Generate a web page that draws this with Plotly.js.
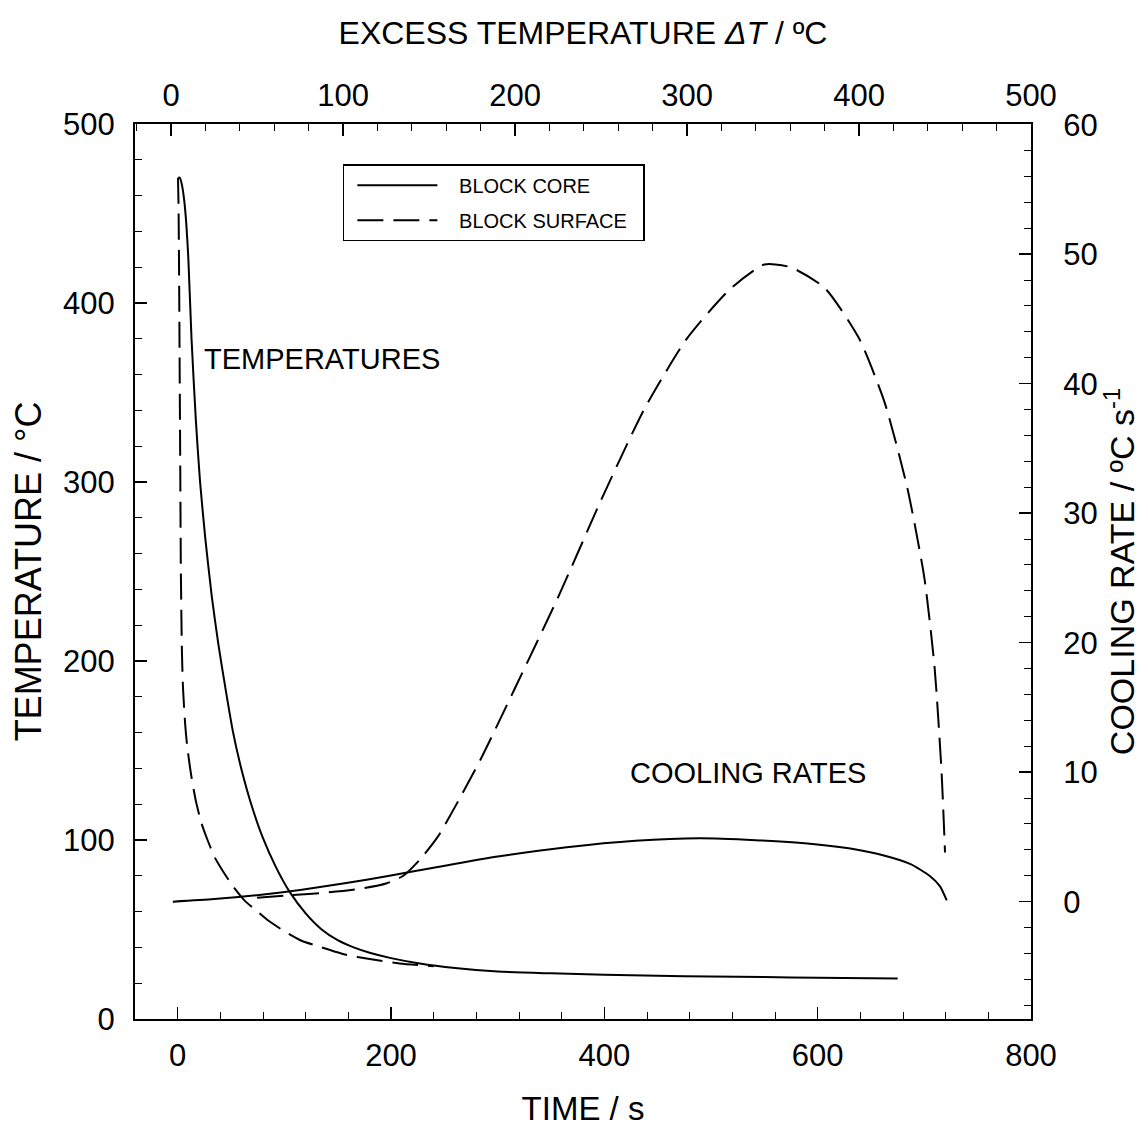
<!DOCTYPE html>
<html><head><meta charset="utf-8">
<script src="https://cdn.plot.ly/plotly-3.0.1.min.js"></script>
<style>body{margin:0;background:#fff}</style>
</head><body><div id="chart" style="width:1146px;height:1127px"></div>
<script>
// Temperatures vs time (bottom / left axes)
const coreTime = [0.5, 2, 4, 6, 8, 10, 13, 17, 21, 26, 32, 38, 45, 52, 60, 70, 80, 92, 105, 120, 135, 150, 165, 180, 200, 227, 260, 300, 350, 400, 450, 500, 550, 600, 650, 675];
const coreTemp = [470, 470, 466, 458, 445, 425, 380, 335, 300, 268, 236, 210, 184, 160, 139, 118, 101, 85, 71, 59, 50, 44, 40, 37, 34, 31, 28.5, 26.5, 25.5, 24.7, 24.1, 23.7, 23.4, 23.1, 22.8, 22.6];
const surfTime = [0.3, 0.8, 1.3, 1.8, 2.4, 3, 4, 5, 7, 9, 13, 17, 22, 28, 35, 42, 52, 63, 75, 85, 100, 115, 135, 157, 180, 208, 240];
const surfTemp = [470, 455, 420, 370, 310, 250, 205, 185, 165, 152, 135, 122, 110, 100, 90, 83, 74, 66, 60, 55, 49, 44, 40, 36, 33.5, 31, 29.5];
// Cooling rates vs excess temperature (top / right axes)
const coreDT = [1, 25, 50, 75, 100, 127, 160, 191, 230, 270, 307, 340, 370, 395, 415, 430, 441, 447, 451];
const coreRate = [0, 0.2, 0.5, 0.9, 1.4, 2.0, 2.8, 3.5, 4.2, 4.7, 4.9, 4.75, 4.5, 4.1, 3.55, 2.9, 2.0, 1.2, 0.1];
const surfDT = [50, 70, 90, 110, 125, 135, 145, 155, 165, 180, 200, 225, 250, 275, 300, 325, 345, 360, 380, 400, 415, 428, 438, 444, 448, 450];
const surfRate = [0.3, 0.5, 0.7, 1.0, 1.4, 2.0, 3.3, 5.0, 7.3, 11, 16.5, 23.5, 31, 38, 43.5, 47.3, 49.2, 49, 47.4, 43.5, 38.5, 32, 25, 18, 10, 3.8];

const seriesNames = ['BLOCK CORE', 'BLOCK SURFACE'];
const bottomTicks = [0, 200, 400, 600, 800];

const FONT = 'Liberation Sans, Arial, sans-serif';
const NB = '\u00a0\u00a0\u00a0';
const solid = {color: '#000', width: 2, shape: 'spline', smoothing: 0.6};
const dashed = {color: '#000', width: 2, dash: '26px,10px', shape: 'spline', smoothing: 0.6};

const traces = [
  {x: coreTime, y: coreTemp, name: NB + seriesNames[0], mode: 'lines', line: solid, xaxis: 'x', yaxis: 'y', legendgroup: 'a'},
  {x: surfTime, y: surfTemp, name: NB + seriesNames[1] + '\u00a0\u00a0', mode: 'lines', line: dashed, xaxis: 'x', yaxis: 'y', legendgroup: 'b'},
  {x: coreDT, y: coreRate, name: seriesNames[0], mode: 'lines', line: solid, xaxis: 'x2', yaxis: 'y2', showlegend: false},
  {x: surfDT, y: surfRate, name: seriesNames[1], mode: 'lines', line: dashed, xaxis: 'x2', yaxis: 'y2', showlegend: false}
];

const tickFont = {family: FONT, size: 31, color: '#000'};
const axBase = {
  showline: true, linecolor: '#000', linewidth: 2, mirror: false,
  showgrid: false, zeroline: false,
  ticks: 'inside', ticklen: 12, tickwidth: 1.5, tickcolor: '#000',
  tickfont: tickFont
};
const minorTicks = (d) => ({dtick: d, ticks: 'inside', ticklen: 7, tickcolor: '#000', tickwidth: 1});

const layout = {
  width: 1146, height: 1127,
  margin: {l: 135, r: 115, t: 124, b: 108},
  paper_bgcolor: '#fff', plot_bgcolor: '#fff',
  font: {family: FONT, color: '#000'},
  showlegend: true,
  legend: {
    x: 0.232, y: 0.955, xanchor: 'left', yanchor: 'top',
    bordercolor: '#000', borderwidth: 1.5, bgcolor: '#fff',
    font: {family: FONT, size: 20, color: '#000'},
    itemwidth: 80, indentation: 8, traceorder: 'grouped', tracegroupgap: 6
  },
  xaxis: Object.assign({}, axBase, {
    range: [-40, 800], tickvals: bottomTicks, ticklabelstandoff: 8,
    minor: minorTicks(40),
    title: {text: 'TIME / s', standoff: 25, font: {family: FONT, size: 33, color: '#000'}}
  }),
  xaxis2: Object.assign({}, axBase, {
    overlaying: 'x', side: 'top', anchor: 'y',
    range: [-21, 500], dtick: 100, tick0: 0, ticklabelstandoff: 4,
    minor: minorTicks(20),
    title: {text: 'EXCESS TEMPERATURE <i>ΔT</i> / ºC', standoff: 23, font: {family: FONT, size: 32, color: '#000'}}
  }),
  yaxis: Object.assign({}, axBase, {
    range: [0, 500], dtick: 100, tick0: 0, ticklabelstandoff: 12,
    minor: minorTicks(20),
    title: {text: 'TEMPERATURE / °C', standoff: 10, font: {family: FONT, size: 36, color: '#000'}}
  }),
  yaxis2: Object.assign({}, axBase, {
    overlaying: 'y', side: 'right', anchor: 'x',
    range: [-9.06, 60.05], dtick: 10, tick0: 0, ticklabelstandoff: 24,
    minor: minorTicks(2),
    title: {text: 'COOLING RATE / ºC s<sup>-1</sup>', standoff: 0, font: {family: FONT, size: 34, color: '#000'}}
  }),
  annotations: [
    {x: 135, y: 368.7, xref: 'x', yref: 'y', text: 'TEMPERATURES', showarrow: false,
     font: {family: FONT, size: 29, color: '#000'}},
    {x: 534.6, y: 137.4, xref: 'x', yref: 'y', text: 'COOLING RATES', showarrow: false,
     font: {family: FONT, size: 29, color: '#000'}}
  ]
};

Plotly.newPlot('chart', traces, layout, {displayModeBar: false, staticPlot: true});
</script>
</body></html>
